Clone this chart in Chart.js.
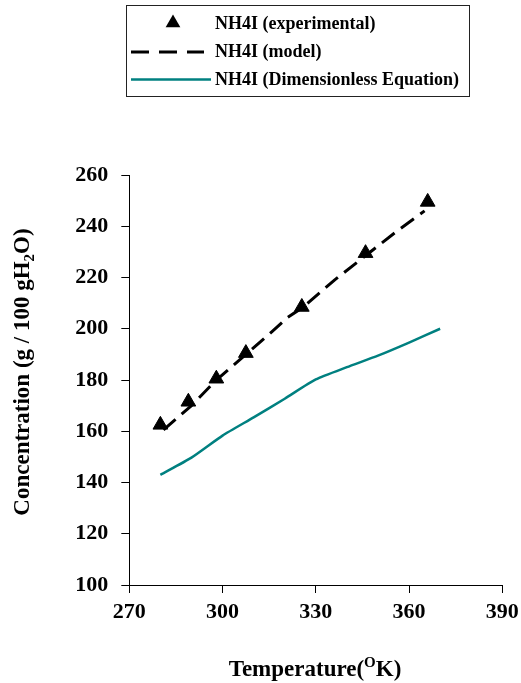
<!DOCTYPE html>
<html>
<head>
<meta charset="utf-8">
<script src="https://cdn.jsdelivr.net/npm/chart.js@4.4.1/dist/chart.umd.min.js"></script>
<style>
  html, body { margin: 0; padding: 0; background: #fff; }
  #wrap { width: 521px; height: 683px; }
</style>
</head>
<body>
<div id="wrap"><canvas id="c" width="521" height="683"></canvas></div>
<script>
// ---- data ----
const expTemp   = [280, 289, 298, 307.5, 325.5, 346, 366];
const expConc   = [162.5, 171.5, 180.5, 190.5, 208.5, 229.5, 249.5];
const modelTemp = [281, 290, 298, 308, 316, 321, 326, 336, 346, 356, 365];
const modelConc = [160.5, 170, 180, 190.5, 199, 204.5, 208.5, 219, 228.5, 238, 246];
const dimTemp   = [280, 290, 300, 310, 320, 330, 340, 350, 360, 370];
const dimConc   = [143, 149.7, 158.3, 165.4, 172.7, 180.2, 185, 189.5, 194.6, 200];
const seriesNames = ['NH4I (experimental)', 'NH4I (model)', 'NH4I (Dimensionless Equation)'];
const xTicks = [270, 300, 330, 360, 390];
const yTicks = [100, 120, 140, 160, 180, 200, 220, 240, 260];

const pts = (xs, ys) => xs.map((x, i) => ({ x: x, y: ys[i] }));
const SERIF = '"Liberation Serif", "Times New Roman", serif';
const TEAL = '#008080';

const overlay = {
  id: 'overlay',
  afterDraw(chart) {
    const ctx = chart.ctx;
    const ds = chart.data.datasets;
    ctx.save();
    // legend box
    ctx.strokeStyle = '#222';
    ctx.lineWidth = 1;
    ctx.strokeRect(126.5, 5.5, 343, 91);
    ctx.fillStyle = '#000';
    ctx.font = 'bold 18px ' + SERIF;
    ctx.textBaseline = 'alphabetic';
    ctx.textAlign = 'left';
    // row 1: triangle marker
    const r = ds[0].pointRadius;
    ctx.beginPath();
    ctx.moveTo(173, 23 - r);
    ctx.lineTo(173 + Math.sin(2 * Math.PI / 3) * r, 23 + r / 2);
    ctx.lineTo(173 - Math.sin(2 * Math.PI / 3) * r, 23 + r / 2);
    ctx.closePath();
    ctx.fill();
    ctx.fillText(ds[0].label, 215, 28.5);
    // row 2: dashed
    ctx.beginPath();
    ctx.strokeStyle = ds[1].borderColor;
    ctx.lineWidth = ds[1].borderWidth;
    ctx.setLineDash([18, 10]);
    ctx.moveTo(131, 52);
    ctx.lineTo(204, 52);
    ctx.stroke();
    ctx.setLineDash([]);
    ctx.fillText(ds[1].label, 215, 57);
    // row 3: teal
    ctx.beginPath();
    ctx.strokeStyle = ds[2].borderColor;
    ctx.lineWidth = ds[2].borderWidth;
    ctx.moveTo(131, 79.5);
    ctx.lineTo(211, 79.5);
    ctx.stroke();
    ctx.fillText(ds[2].label, 215, 85);

    // x axis title with superscript
    const big = 'bold 23px ' + SERIF;
    const small = 'bold 15px ' + SERIF;
    const a = 'Temperature(', s = 'O', b = 'K)';
    ctx.font = big; const wa = ctx.measureText(a).width, wb = ctx.measureText(b).width;
    ctx.font = small; const ws = ctx.measureText(s).width;
    const total = wa + ws + wb;
    let x0 = 315 - total / 2;
    const by = 676;
    ctx.font = big; ctx.fillText(a, x0, by);
    ctx.font = small; ctx.fillText(s, x0 + wa, by - 9);
    ctx.font = big; ctx.fillText(b, x0 + wa + ws, by);

    // y axis title with subscript (rotated)
    ctx.translate(29, 372);
    ctx.rotate(-Math.PI / 2);
    const ya = 'Concentration (g / 100 gH', ys = '2', yb = 'O)';
    ctx.font = big; const wya = ctx.measureText(ya).width, wyb = ctx.measureText(yb).width;
    ctx.font = small; const wys = ctx.measureText(ys).width;
    const ytot = wya + wys + wyb;
    let y0 = -ytot / 2;
    ctx.font = big; ctx.fillText(ya, y0, 0);
    ctx.font = small; ctx.fillText(ys, y0 + wya, 5);
    ctx.font = big; ctx.fillText(yb, y0 + wya + wys, 0);
    ctx.restore();
  }
};

new Chart(document.getElementById('c'), {
  type: 'scatter',
  data: {
    datasets: [
      {
        label: seriesNames[0],
        data: pts(expTemp, expConc),
        showLine: false,
        pointStyle: 'triangle',
        pointRadius: 8.5,
        pointBackgroundColor: '#000',
        pointBorderColor: '#000',
        pointBorderWidth: 1
      },
      {
        label: seriesNames[1],
        data: pts(modelTemp, modelConc),
        showLine: true,
        borderColor: '#000',
        borderWidth: 3,
        borderDash: [16, 8],
        pointRadius: 0,
        tension: 0
      },
      {
        label: seriesNames[2],
        data: pts(dimTemp, dimConc),
        showLine: true,
        borderColor: TEAL,
        borderWidth: 2.5,
        pointRadius: 0,
        tension: 0.2
      }
    ]
  },
  options: {
    responsive: false,
    animation: false,
    devicePixelRatio: 1,
    layout: { padding: { top: 175, right: 18.7, bottom: 0, left: 0 } },
    plugins: { legend: { display: false }, tooltip: { enabled: false } },
    scales: {
      x: {
        type: 'linear',
        min: xTicks[0], max: xTicks[xTicks.length - 1],
        afterBuildTicks: (sc) => { sc.ticks = xTicks.map(v => ({ value: v })); },
        afterFit: (sc) => { sc.height = 98; sc.paddingRight = 0; sc.paddingLeft = 0; },
        ticks: { color: '#000', font: { family: SERIF, size: 22, weight: 'bold' }, padding: 6, maxRotation: 0 },
        grid: { drawOnChartArea: false, drawTicks: true, tickLength: 8, color: '#000' },
        border: { display: true, color: '#000', width: 1 }
      },
      y: {
        type: 'linear',
        min: yTicks[0], max: yTicks[yTicks.length - 1],
        afterBuildTicks: (sc) => { sc.ticks = yTicks.map(v => ({ value: v })); },
        afterFit: (sc) => { sc.width = 129.3; sc.paddingTop = 0; sc.paddingBottom = 0; },
        ticks: { color: '#000', font: { family: SERIF, size: 22, weight: 'bold' }, padding: 13 },
        grid: { drawOnChartArea: false, drawTicks: true, tickLength: 8, color: '#000' },
        border: { display: true, color: '#000', width: 1 }
      }
    }
  },
  plugins: [overlay]
});
</script>
</body>
</html>
